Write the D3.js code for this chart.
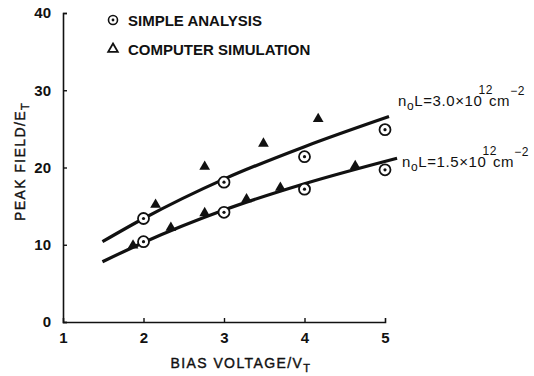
<!DOCTYPE html>
<html>
<head>
<meta charset="utf-8">
<script src="https://cdn.jsdelivr.net/npm/d3@7"></script>
<style>
  body { margin: 0; background: #fff; }
  text { font-family: 'Liberation Sans', Arial, sans-serif; fill: #111; }
</style>
</head>
<body>
<div id="chart"></div>
<script>
// data
const xTicks = [1, 2, 3, 4, 5]
const yTicks = [0, 10, 20, 30, 40]

const simpleX = [2, 3, 4, 5, 2, 3, 4, 5]
const simpleY = [13.4, 18.1, 21.4, 24.9, 10.4, 14.2, 17.2, 19.7]

const simX = [1.87, 2.15, 2.34, 2.76, 2.76, 3.28, 3.49, 3.7, 4.17, 4.63]
const simY = [9.9, 15.2, 12.2, 14.1, 20.1, 15.9, 23.1, 17.4, 26.3, 20.2]

const upperX = [1.49, 2, 3, 4, 5.05]
const upperY = [10.4, 13.4, 18.5, 22.7, 26.6]
const lowerX = [1.49, 2, 3, 4, 5.15]
const lowerY = [7.8, 10.3, 14.5, 17.9, 21.2]

const margin = { top: 13, left: 63, right: 149, bottom: 54 }
const width = 534 - margin.left - margin.right
const height = 376 - margin.top - margin.bottom

const svg = d3
  .select('#chart')
  .append('svg')
  .attr('width', 534)
  .attr('height', 376)
  .append('g')
  .attr('transform', 'translate(' + margin.left + ',' + margin.top + ')')

const xPositionScale = d3.scaleLinear().domain([1, 5]).range([0, width])
const yPositionScale = d3.scaleLinear().domain([0, 40]).range([height, 0])

const xAxis = d3
  .axisBottom(xPositionScale)
  .tickValues(xTicks)
  .tickFormat(d3.format('d'))
  .tickSize(-4)
  .tickPadding(10)
svg
  .append('g')
  .attr('class', 'axis x-axis')
  .attr('transform', 'translate(0,' + height + ')')
  .call(xAxis)

const yAxis = d3
  .axisLeft(yPositionScale)
  .tickValues(yTicks)
  .tickFormat(d3.format('d'))
  .tickSize(-4)
  .tickPadding(12)
svg
  .append('g')
  .attr('class', 'axis y-axis')
  .call(yAxis)

svg.selectAll('.axis path').attr('stroke', '#111').attr('stroke-width', 1.6)
svg.selectAll('.axis line').attr('stroke', '#111').attr('stroke-width', 1.4)
svg.selectAll('.axis .tick text')
  .attr('font-size', 15)
  .attr('font-family', "'Liberation Sans', Arial, sans-serif")
  .attr('font-weight', 'bold')
  .attr('fill', '#111')
svg.selectAll('.x-axis .tick')
  .filter(d => d === 1 || d === 5)
  .select('line')
  .remove()

// fitted curves
const line = d3
  .line()
  .x(d => xPositionScale(d[0]))
  .y(d => yPositionScale(d[1]))
  .curve(d3.curveMonotoneX)

svg
  .append('path')
  .datum(d3.zip(upperX, upperY))
  .attr('d', line)
  .attr('fill', 'none')
  .attr('stroke', '#111')
  .attr('stroke-width', 3.2)

svg
  .append('path')
  .datum(d3.zip(lowerX, lowerY))
  .attr('d', line)
  .attr('fill', 'none')
  .attr('stroke', '#111')
  .attr('stroke-width', 3.2)

// simple analysis: circled dots
const simple = svg
  .selectAll('.simple')
  .data(d3.zip(simpleX, simpleY))
  .enter()
  .append('g')
  .attr('class', 'simple')
  .attr('transform', d => 'translate(' + xPositionScale(d[0]) + ',' + yPositionScale(d[1]) + ')')
simple.append('circle').attr('r', 5.5).attr('fill', '#fff').attr('stroke', '#111').attr('stroke-width', 1.8)
simple.append('circle').attr('r', 1.6).attr('fill', '#111')

// computer simulation: triangles
const tri = d3.symbol().type(d3.symbolTriangle).size(50)
svg
  .selectAll('.sim')
  .data(d3.zip(simX, simY))
  .enter()
  .append('path')
  .attr('class', 'sim')
  .attr('d', tri)
  .attr('fill', '#111')
  .attr('transform', d => 'translate(' + xPositionScale(d[0]) + ',' + yPositionScale(d[1]) + ')')

// legend
const legend = svg.append('g').attr('transform', 'translate(50,0)')
const lg1 = legend.append('g').attr('transform', 'translate(0,7)')
lg1.append('circle').attr('r', 4.5).attr('fill', '#fff').attr('stroke', '#111').attr('stroke-width', 1.6)
lg1.append('circle').attr('r', 1.4).attr('fill', '#111')
legend.append('path').attr('d', d3.symbol().type(d3.symbolTriangle).size(40))
  .attr('fill', 'none').attr('stroke', '#111').attr('stroke-width', 1.8)
  .attr('transform', 'translate(0,36)')
legend.append('text').text('SIMPLE ANALYSIS')
  .attr('x', 15).attr('y', 13).attr('font-size', 15).attr('font-weight', 'bold')
legend.append('text').text('COMPUTER SIMULATION')
  .attr('x', 15).attr('y', 42).attr('font-size', 15).attr('font-weight', 'bold')

// curve labels
function curveLabel(x, y, value) {
  const t = svg.append('text').attr('x', x).attr('y', y)
    .attr('font-size', 15).attr('letter-spacing', 0.6)
  t.append('tspan').text('n')
  t.append('tspan').text('o').attr('font-size', 12).attr('dy', 4)
  t.append('tspan').text('L=' + value + '\u00d710').attr('dy', -4)
  t.append('tspan').text('12').attr('font-size', 12).attr('dy', -12).attr('dx', -4)
  t.append('tspan').text('cm').attr('dy', 12).attr('dx', -4)
  t.append('tspan').text('\u22122').attr('font-size', 12).attr('dy', -11)
}
curveLabel(335, 93, '3.0')
curveLabel(339, 154, '1.5')

// axis titles
const xt = svg.append('text')
  .attr('x', width / 2 + 17).attr('y', height + 46)
  .attr('text-anchor', 'middle').attr('font-size', 14)
  .attr('letter-spacing', 1.4).attr('stroke', '#111').attr('stroke-width', 0.4)
xt.append('tspan').text('BIAS VOLTAGE/V')
xt.append('tspan').text('T').attr('font-size', 11).attr('dy', 4)

const yt = svg.append('text')
  .attr('transform', 'translate(-38,' + (height / 2 - 6) + ') rotate(-90)')
  .attr('text-anchor', 'middle').attr('font-size', 14)
  .attr('letter-spacing', 1.4).attr('stroke', '#111').attr('stroke-width', 0.4)
yt.append('tspan').text('PEAK FIELD/E')
yt.append('tspan').text('T').attr('font-size', 11).attr('dy', 4)
</script>
</body>
</html>
